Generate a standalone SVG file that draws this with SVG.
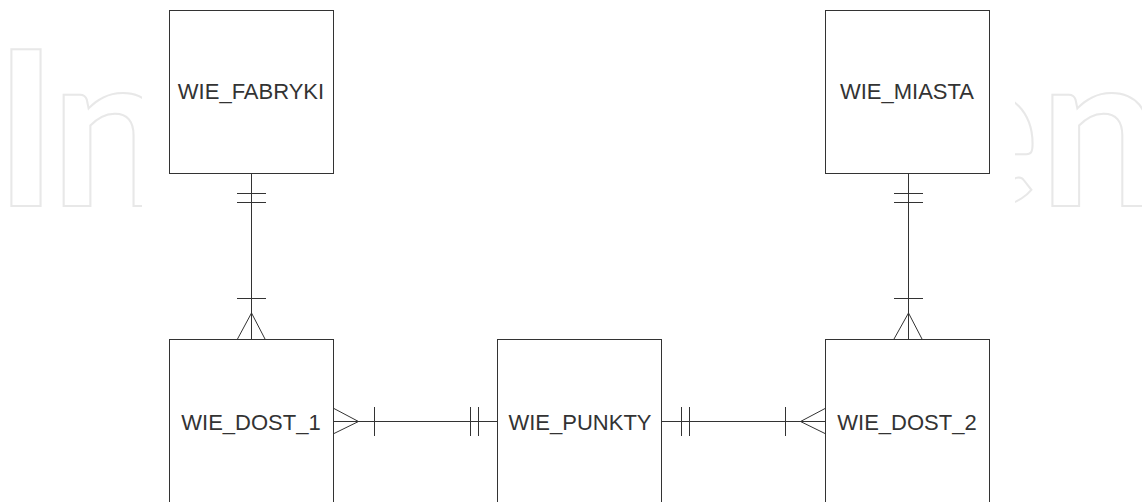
<svg xmlns="http://www.w3.org/2000/svg" width="1142" height="502" viewBox="0 0 1142 502">
<style>
.wm{font-family:Lato,"Open Sans",sans-serif;font-weight:700;font-size:216px;fill:none;stroke:#e8e8e8;stroke-width:2}
.box{fill:#fff;stroke:#333;stroke-width:1}
.lbl{font-family:"Liberation Sans",Arial,sans-serif;font-size:22px;fill:#333;text-anchor:middle}
.ln{stroke:#333;stroke-width:1;fill:none}
</style>
<rect width="1142" height="502" fill="#fff"/>
<g id="watermark">
<text class="wm" x="-6" y="206" letter-spacing="-6">In</text>
<text class="wm" x="924" y="206">en</text>
<rect x="142" y="0" width="873" height="502" fill="#fff"/>
</g>
<g id="connectors">
<line class="ln" x1="251.5" y1="174" x2="251.5" y2="339"/>
<line class="ln" x1="237" y1="193.5" x2="266" y2="193.5"/>
<line class="ln" x1="237" y1="202.5" x2="266" y2="202.5"/>
<line class="ln" x1="237" y1="298.5" x2="266" y2="298.5"/>
<polyline class="ln" points="237.5,339 251.5,313 265,339"/>
<line class="ln" x1="908.5" y1="174" x2="908.5" y2="339"/>
<line class="ln" x1="894" y1="193.5" x2="923" y2="193.5"/>
<line class="ln" x1="894" y1="202.5" x2="923" y2="202.5"/>
<line class="ln" x1="894" y1="298.5" x2="923" y2="298.5"/>
<polyline class="ln" points="894,339 908.5,313 922,339"/>
<line class="ln" x1="333" y1="421.5" x2="497" y2="421.5"/>
<polyline class="ln" points="333,408 358.5,421.5 333,434"/>
<line class="ln" x1="374.5" y1="407" x2="374.5" y2="436"/>
<line class="ln" x1="470.5" y1="407" x2="470.5" y2="436"/>
<line class="ln" x1="478.5" y1="407" x2="478.5" y2="436"/>
<line class="ln" x1="662" y1="421.5" x2="826" y2="421.5"/>
<polyline class="ln" points="826,408 800.5,421.5 826,434"/>
<line class="ln" x1="681.5" y1="407" x2="681.5" y2="436"/>
<line class="ln" x1="689.5" y1="407" x2="689.5" y2="436"/>
<line class="ln" x1="785.5" y1="407" x2="785.5" y2="436"/>
</g>
<g id="wie_fabryki">
<rect class="box" x="169.5" y="10.5" width="164" height="163"/>
<text class="lbl" x="251" y="99">WIE_FABRYKI</text>
</g>
<g id="wie_miasta">
<rect class="box" x="825.5" y="10.5" width="164" height="163"/>
<text class="lbl" x="907" y="99">WIE_MIASTA</text>
</g>
<g id="wie_dost_1">
<rect class="box" x="169.5" y="339.5" width="164" height="200"/>
<text class="lbl" x="251" y="429.5">WIE_DOST_1</text>
</g>
<g id="wie_punkty">
<rect class="box" x="497.5" y="339.5" width="164" height="200"/>
<text class="lbl" x="580" y="429.5">WIE_PUNKTY</text>
</g>
<g id="wie_dost_2">
<rect class="box" x="825.5" y="339.5" width="164" height="200"/>
<text class="lbl" x="907" y="429.5">WIE_DOST_2</text>
</g>
</svg>
